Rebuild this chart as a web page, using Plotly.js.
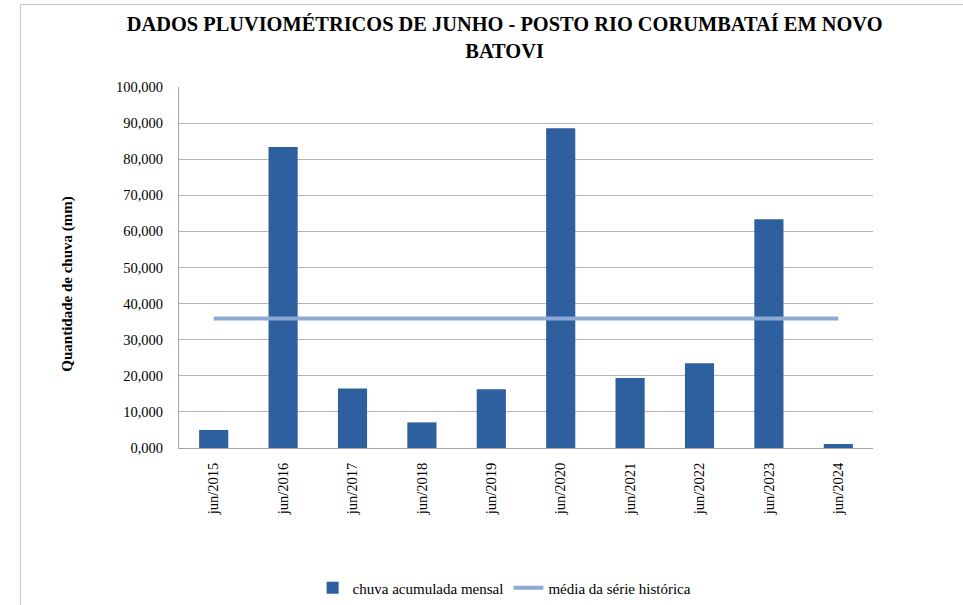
<!DOCTYPE html>
<html>
<head>
<meta charset="utf-8">
<script src="https://cdn.plot.ly/plotly-3.0.1.min.js"></script>
<style>
html,body{margin:0;padding:0;background:#fff;}
#chart{position:absolute;left:0;top:0;width:963px;height:605px;}
#frame{position:absolute;left:20px;top:4px;width:960px;height:620px;border-left:1px solid #c8c8c8;border-top:1px solid #c8c8c8;pointer-events:none;}
</style>
</head>
<body>
<div id="chart"></div>
<div id="frame"></div>
<script>
const categories = ["jun/2015","jun/2016","jun/2017","jun/2018","jun/2019","jun/2020","jun/2021","jun/2022","jun/2023","jun/2024"];
const chuvaMensal = [5.0, 83.4, 16.5, 7.1, 16.3, 88.6, 19.4, 23.5, 63.4, 1.1];
const mediaHistorica = [35.9, 35.9, 35.9, 35.9, 35.9, 35.9, 35.9, 35.9, 35.9, 35.9];
const yTicks = [0,10,20,30,40,50,60,70,80,90,100];

const font = "Liberation Serif, Times New Roman, serif";

const traces = [
  {
    type: 'bar', x: categories, y: chuvaMensal, name: 'chuva acumulada mensal',
    marker: {color: '#2E5F9F', line: {width: 0}}
  },
  {
    type: 'scatter', mode: 'lines', x: categories, y: mediaHistorica, name: 'média da série histórica',
    line: {color: '#8EA9D4', width: 4}
  }
];

const layout = {
  width: 963, height: 605,
  paper_bgcolor: '#fff', plot_bgcolor: '#fff',
  separators: ',.',
  font: {family: font, color: '#000', size: 14},
  margin: {l: 179, r: 90, t: 87, b: 157, autoexpand: false},
  bargap: 0.58,
  title: {
    text: '<b>DADOS PLUVIOMÉTRICOS DE JUNHO - POSTO RIO CORUMBATAÍ EM NOVO<br>BATOVI</b>',
    font: {family: font, size: 20.4, color: '#000'},
    x: 0.524, xanchor: 'center', y: 0.948, yanchor: 'top'
  },
  xaxis: {
    type: 'category', tickangle: -90, showgrid: false, automargin: false,
    showline: true, linecolor: '#A6A6A6', linewidth: 1,
    ticks: 'outside', ticklen: 8, tickcolor: 'rgba(0,0,0,0)',
    tickfont: {family: font, size: 14.5, color: '#000'},
    fixedrange: true
  },
  yaxis: {
    range: [0, 100], tickvals: yTicks, tickformat: '.3f', automargin: false,
    showgrid: true, gridcolor: '#B5B5B5', gridwidth: 1,
    showline: true, linecolor: '#A6A6A6', linewidth: 1,
    zeroline: false,
    ticks: 'outside', ticklen: 12, tickcolor: 'rgba(0,0,0,0)',
    tickfont: {family: font, size: 14.5, color: '#000'},
    fixedrange: true
  },
  annotations: [{
    text: '<b>Quantidade de chuva (mm)</b>', textangle: -90,
    xref: 'paper', yref: 'paper', x: -0.16, y: 0.455, xanchor: 'center', yanchor: 'middle',
    showarrow: false, font: {family: font, size: 15, color: '#000'}
  }],
  legend: {
    orientation: 'h', xref: 'container', yref: 'container',
    x: 0.524, xanchor: 'center', y: 0.028, yanchor: 'middle',
    font: {family: font, size: 15, color: '#000'},
    itemwidth: 30, traceorder: 'normal'
  },
  showlegend: true
};

Plotly.newPlot('chart', traces, layout, {displayModeBar: false, staticPlot: true});
</script>
</body>
</html>
